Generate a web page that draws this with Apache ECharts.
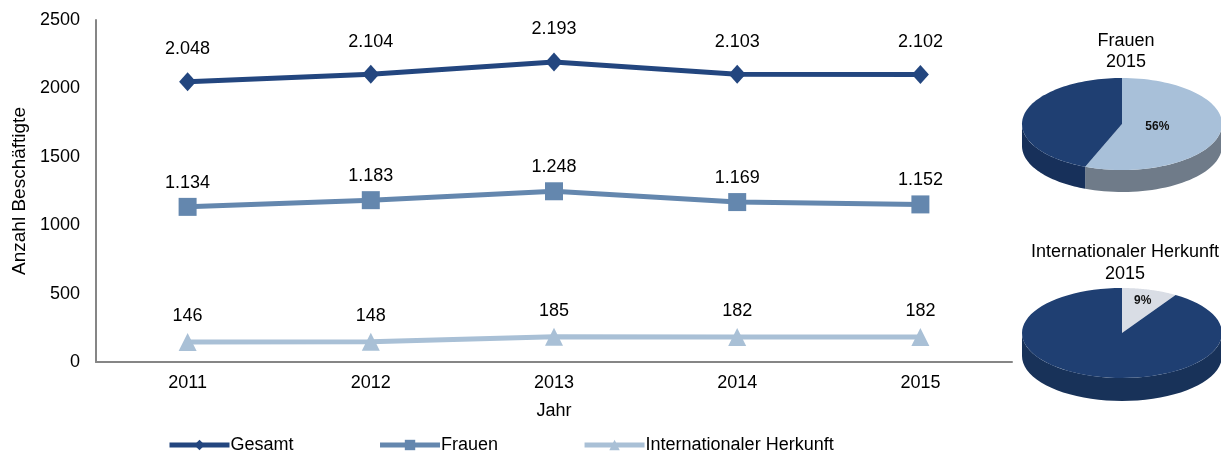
<!DOCTYPE html>
<html>
<head>
    <meta charset="utf-8" />
    <title>Anzahl Beschäftigte</title>
    <script src="https://cdn.jsdelivr.net/npm/echarts@6/dist/echarts.min.js"></script>
</head>
<body style="margin:0;background:#fff">
<div id="main" style="width: 1221px;height:453px;"></div>
<script type="text/javascript">
    // Werte aus dem Bild
    var years = ['2011', '2012', '2013', '2014', '2015'];
    var gesamt = [2048, 2104, 2193, 2103, 2102];
    var frauen = [1134, 1183, 1248, 1169, 1152];
    var international = [146, 148, 185, 182, 182];
    var yMin = 0, yMax = 2500, yStep = 500;
    // Kreisdiagramme 2015 (Anteil in %, Rest)
    var pieFrauen = [56, 44];
    var pieInternational = [9, 91];

    var cDark = '#23467f', cMid = '#6487ae', cLight = '#a9c0d6';
    var font = 'Liberation Sans, Arial, sans-serif';

    function deNum(v) {
        return String(v).replace(/\B(?=(\d{3})+(?!\d))/g, '.');
    }

    // 3D-artiger Kreis als custom series
    function pieSeries(values, tops, sides, cx, cy, rx, ry, depth, labelR) {
        var total = values.reduce(function (a, b) { return a + b; }, 0);
        function pt(a, dy) {
            return [cx + rx * Math.sin(a), cy - ry * Math.cos(a) + (dy || 0)];
        }
        return {
            type: 'custom',
            coordinateSystem: 'none',
            silent: true,
            data: values.map(function (v) { return [v]; }),
            renderItem: function (params, api) {
                var i = params.dataIndex;
                var before = 0;
                for (var k = 0; k < i; k++) before += values[k];
                var a0 = before / total * Math.PI * 2;
                var a1 = (before + values[i]) / total * Math.PI * 2;
                var children = [];
                // Seitenflaeche, nur vorne sichtbar (90..270 Grad)
                var s0 = Math.max(a0, Math.PI / 2), s1 = Math.min(a1, Math.PI * 1.5);
                if (s1 > s0) {
                    var side = [];
                    var n = 40, j;
                    for (j = 0; j <= n; j++) side.push(pt(s0 + (s1 - s0) * j / n, 0));
                    for (j = n; j >= 0; j--) side.push(pt(s0 + (s1 - s0) * j / n, depth));
                    children.push({
                        type: 'polygon', z2: 1,
                        shape: {points: side},
                        style: {fill: sides[i]}
                    });
                }
                var top = [[cx, cy]];
                var m = 80;
                for (var t = 0; t <= m; t++) top.push(pt(a0 + (a1 - a0) * t / m, 0));
                children.push({
                    type: 'polygon', z2: 10,
                    shape: {points: top},
                    style: {fill: tops[i]}
                });
                if (i === 0) {
                    var mid = (a0 + a1) / 2;
                    children.push({
                        type: 'text', z2: 20,
                        style: {
                            text: values[i] + '%',
                            x: cx + rx * labelR * Math.sin(mid),
                            y: cy - ry * labelR * Math.cos(mid),
                            align: 'center', verticalAlign: 'middle',
                            font: 'bold 12px ' + font,
                            fill: '#111'
                        }
                    });
                }
                return {type: 'group', children: children};
            }
        };
    }

    function labelCfg(dist) {
        return {
            show: true,
            position: 'top',
            distance: dist,
            fontSize: 18,
            fontFamily: font,
            color: '#000',
            formatter: function (p) { return deNum(p.value); }
        };
    }

    var option = {
        animation: false,
        title: [
            {text: 'Frauen\n2015', left: 1121, top: 26, textAlign: 'center',
             textStyle: {fontSize: 18, fontWeight: 'normal', fontFamily: font, color: '#000', lineHeight: 21}},
            {text: 'Internationaler Herkunft\n2015', left: 1120, top: 236, textAlign: 'center',
             textStyle: {fontSize: 18, fontWeight: 'normal', fontFamily: font, color: '#000', lineHeight: 22}}
        ],
        legend: {
            left: 162,
            top: 431,
            itemWidth: 60,
            itemHeight: 13,
            itemGap: 84,
            lineStyle: {width: 5},
            textStyle: {fontSize: 18, fontFamily: font, color: '#000', padding: [0, 0, 0, -4]},
            data: ['Gesamt', 'Frauen', 'Internationaler Herkunft']
        },
        grid: {left: 96, right: 209, top: 20, bottom: 91},
        xAxis: {
            type: 'category',
            data: years,
            boundaryGap: true,
            name: 'Jahr',
            nameLocation: 'middle',
            nameGap: 40,
            nameTextStyle: {fontSize: 18, fontFamily: font, color: '#000'},
            axisLine: {lineStyle: {color: '#868686', width: 2}},
            axisTick: {show: false},
            axisLabel: {fontSize: 18, fontFamily: font, color: '#000', margin: 12}
        },
        yAxis: {
            type: 'value',
            min: yMin, max: yMax, interval: yStep,
            name: 'Anzahl Beschäftigte',
            nameLocation: 'middle',
            nameGap: 67,
            nameTextStyle: {fontSize: 19, fontFamily: font, color: '#000'},
            axisLine: {show: true, lineStyle: {color: '#868686', width: 2}},
            axisTick: {show: false},
            splitLine: {show: false},
            axisLabel: {fontSize: 18, fontFamily: font, color: '#000', margin: 16,
                        formatter: function (v) { return String(v); }}
        },
        series: [
            {name: 'Gesamt', type: 'line', data: gesamt, symbol: 'diamond', symbolSize: [17, 19],
             lineStyle: {width: 5, color: cDark}, itemStyle: {color: cDark}, label: labelCfg(14)},
            {name: 'Frauen', type: 'line', data: frauen, symbol: 'rect', symbolSize: 18,
             lineStyle: {width: 5, color: cMid}, itemStyle: {color: cMid}, label: labelCfg(6)},
            {name: 'Internationaler Herkunft', type: 'line', data: international, symbol: 'triangle', symbolSize: 18,
             lineStyle: {width: 5, color: cLight}, itemStyle: {color: cLight}, label: labelCfg(8)},
            pieSeries(pieFrauen, ['#a8c0d9', '#1f3f72'], ['#6f7b89', '#17305a'],
                1122, 124, 100, 46, 22, 0.36),
            pieSeries(pieInternational, ['#d9dde5', '#1f3f72'], ['#a9adb5', '#183259'],
                1122, 333, 100, 45, 23, 0.74)
        ]
    };

    var myChart = echarts.init(document.getElementById('main'));
    myChart.setOption(option);
</script>
</body>
</html>
